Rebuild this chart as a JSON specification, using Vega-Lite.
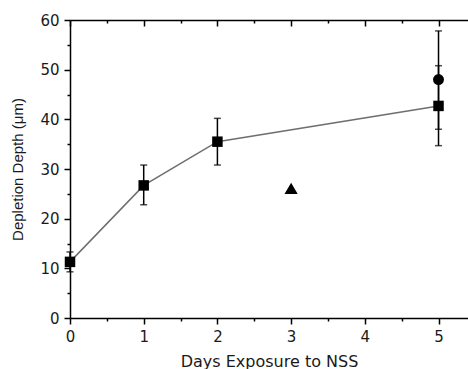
{
  "$schema": "https://vega.github.io/schema/vega-lite/v6.json",
  "width": 398,
  "height": 298,
  "autosize": "none",
  "padding": {"left": 70, "top": 20, "right": 0, "bottom": 51},
  "background": "white",
  "config": {
    "view": {"stroke": null},
    "axis": {"grid": false, "domainColor": "black", "tickColor": "black", "domainWidth": 1.5, "tickWidth": 1.5, "labelColor": "#1a1a1a", "titleColor": "#1a1a1a", "labelFont": "DejaVu Sans", "labelFontSize": 15, "titleFontWeight": "normal"}
  },
  "data": {
    "values": [
      {"day": 0, "depth": 11.3, "lo": 9.3, "hi": 13.3, "series": "square"},
      {"day": 1, "depth": 26.7, "lo": 22.8, "hi": 30.8, "series": "square"},
      {"day": 2, "depth": 35.5, "lo": 30.8, "hi": 40.2, "series": "square"},
      {"day": 5, "depth": 42.7, "lo": 34.7, "hi": 50.8, "series": "square"},
      {"day": 5, "depth": 48.0, "lo": 38.0, "hi": 57.8, "series": "circle"},
      {"day": 3, "depth": 26.1, "lo": null, "hi": null, "series": "triangle"}
    ]
  },
  "resolve": {"axis": {"x": "independent", "y": "independent"}},
  "layer": [
    {
      "transform": [{"filter": "datum.series === 'square'"}],
      "mark": {"type": "line", "color": "#6e6e6e", "strokeWidth": 1.5},
      "encoding": {
        "x": {"field": "day", "type": "quantitative", "scale": {"domain": [0, 5.4], "nice": false, "zero": false},
          "axis": {"orient": "bottom", "values": [0, 1, 2, 3, 4, 5], "tickSize": 6, "labelPadding": 5, "labelFlush": false, "title": "Days Exposure to NSS", "titleFont": "DejaVu Sans", "titleFontSize": 16, "titlePadding": 9}},
        "y": {"field": "depth", "type": "quantitative", "scale": {"domain": [0, 60], "nice": false},
          "axis": {"orient": "left", "values": [0, 10, 20, 30, 40, 50, 60], "tickSize": 6, "labelPadding": 5, "labelFlush": false, "title": "Depletion Depth (\u03bcm)", "titleFont": "Liberation Sans", "titleFontSize": 15, "titlePadding": 14}}
      }
    },
    {
      "transform": [{"filter": "datum.lo != null"}],
      "mark": {"type": "rule", "color": "black", "strokeWidth": 1.5},
      "encoding": {
        "x": {"field": "day", "type": "quantitative",
          "axis": {"orient": "bottom", "values": [0.5, 1.5, 2.5, 3.5, 4.5], "tickSize": 3, "labels": false, "domain": false, "title": null}},
        "y": {"field": "lo", "type": "quantitative",
          "axis": {"orient": "left", "values": [5, 15, 25, 35, 45, 55], "tickSize": 3, "labels": false, "domain": false, "title": null}},
        "y2": {"field": "hi"}
      }
    },
    {
      "transform": [{"filter": "datum.hi != null"}],
      "mark": {"type": "tick", "orient": "horizontal", "color": "black", "size": 7, "thickness": 1.5},
      "encoding": {
        "x": {"field": "day", "type": "quantitative",
          "axis": {"orient": "top", "values": [0, 1, 2, 3, 4, 5], "tickSize": -6, "labels": false, "domain": true, "title": null}},
        "y": {"field": "hi", "type": "quantitative", "axis": null}
      }
    },
    {
      "transform": [{"filter": "datum.lo != null"}],
      "mark": {"type": "tick", "orient": "horizontal", "color": "black", "size": 7, "thickness": 1.5},
      "encoding": {
        "x": {"field": "day", "type": "quantitative",
          "axis": {"orient": "top", "values": [0.5, 1.5, 2.5, 3.5, 4.5], "tickSize": -3, "labels": false, "domain": false, "title": null}},
        "y": {"field": "lo", "type": "quantitative", "axis": null}
      }
    },
    {
      "mark": {"type": "point", "filled": true, "opacity": 1, "color": "black"},
      "encoding": {
        "x": {"field": "day", "type": "quantitative", "axis": null},
        "y": {"field": "depth", "type": "quantitative", "axis": null},
        "shape": {"field": "series", "type": "nominal", "scale": {"domain": ["square", "circle", "triangle"], "range": ["square", "circle", "triangle-up"]}, "legend": null},
        "size": {"field": "series", "type": "nominal", "scale": {"type": "ordinal", "domain": ["square", "circle", "triangle"], "range": [110, 120, 175]}, "legend": null}
      }
    }
  ]
}
